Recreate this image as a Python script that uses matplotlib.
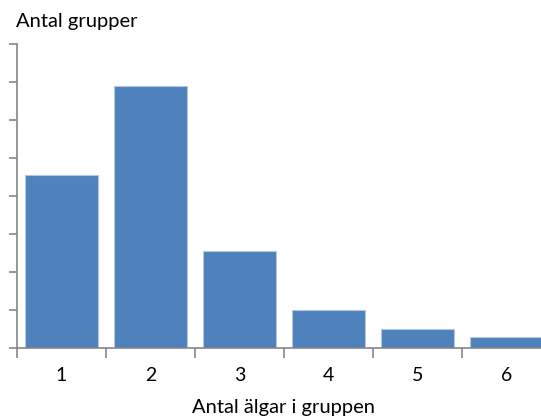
import matplotlib.pyplot as plt
import numpy as np

plt.rcParams['font.family'] = ['Lato', 'DejaVu Sans']

# antal älgar i gruppen -> antal grupper
group_size = [1, 2, 3, 4, 5, 6]
n_groups = [91, 138, 51, 20, 10, 6]
y_ticks = np.arange(0, 161, 20)

fig = plt.figure(figsize=(5.41, 4.18), dpi=100)
# axes runs past the right edge, like the cropped original
ax = fig.add_axes([17/541, 70/418, 534/541, 304/418])

ax.bar(group_size, n_groups, width=0.83, color='#4F81BD',
       edgecolor='#b4c8e4', linewidth=0.8)

ax.set_xlim(0.5, 6.5)
ax.set_ylim(0, 160)

grey = '#868686'
for s in ['top', 'right']:
    ax.spines[s].set_visible(False)
for s in ['left', 'bottom']:
    ax.spines[s].set_color(grey)
    ax.spines[s].set_linewidth(1.2)

ax.set_yticks(y_ticks)
ax.set_yticklabels([])
ax.tick_params(axis='y', direction='out', length=6, width=1.2, color=grey)

# tick marks between categories, labels under bars
ax.set_xticks(np.arange(0.5, 7, 1))
ax.set_xticklabels([])
ax.tick_params(axis='x', which='major', direction='out', length=7, width=1.2, color=grey)
ax.set_xticks(group_size, minor=True)
ax.set_xticklabels([str(g) for g in group_size], minor=True, fontsize=14)
ax.tick_params(axis='x', which='minor', length=0, pad=14)

fig.text(16/541, 1 - 21/418, 'Antal grupper', fontsize=14.5, va='center', ha='left')
fig.text(284/541, 1 - 408/418, 'Antal älgar i gruppen', fontsize=14.5, va='center', ha='center')

plt.savefig('out.png', dpi=100)
plt.close()
